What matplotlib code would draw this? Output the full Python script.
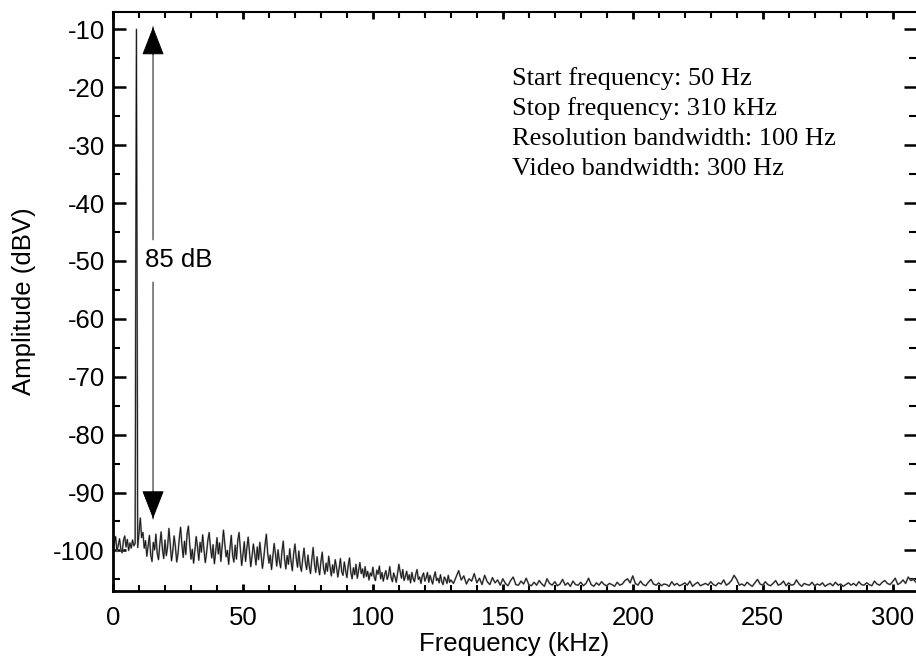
import numpy as np
import matplotlib
matplotlib.use("Agg")
import matplotlib.pyplot as plt
from matplotlib.ticker import MultipleLocator

# ---- data ----
# 0 - 130 kHz, 0.5 kHz spacing
dense_start_khz = 0.0
dense_step_khz = 0.5
amplitude_dense_dbv = [
    -97.2, -98.9, -97.6, -100.2, -99.1, -98.0, -99.8, -100.4, -98.3, -97.5,
    -99.4, -98.1, -100.0, -98.7, -99.6, -98.2, -99.2, -98.8, -10.0, -99.5,
    -97.0, -94.4, -97.8, -96.9, -99.6, -98.3, -101.0, -99.2, -97.4, -100.8,
    -101.9, -98.6, -99.9, -97.2, -100.5, -101.6, -98.9, -96.8, -99.7, -101.4,
    -98.2, -100.9, -99.4, -96.2, -98.8, -101.8, -100.1, -97.5, -99.3, -102.0,
    -100.6, -97.9, -96.0, -99.0, -101.2, -98.4, -100.7, -97.1, -95.8, -98.9,
    -101.5, -99.8, -102.2, -100.0, -97.6, -99.4, -101.7, -98.6, -100.3, -97.3,
    -99.9, -102.1, -100.4, -98.2, -96.9, -99.5, -101.3, -99.0, -102.3, -100.2,
    -97.8, -100.6, -98.7, -101.9, -99.3, -96.5, -98.9, -101.1, -100.0, -102.4,
    -99.6, -97.4, -100.8, -102.0, -99.1, -101.5, -98.3, -96.9, -99.8, -102.6,
    -100.7, -98.5, -101.9, -99.6, -97.7, -100.3, -102.8, -101.0, -98.9, -100.5,
    -102.5, -99.4, -101.6, -98.6, -100.9, -103.1, -101.3, -99.0, -97.2, -100.4,
    -102.2, -100.8, -103.3, -101.0, -98.8, -100.6, -102.7, -99.9, -101.8, -103.0,
    -100.2, -98.4, -101.5, -103.2, -100.9, -102.4, -99.7, -101.9, -103.5, -100.6,
    -98.9, -101.3, -102.9, -100.1, -102.6, -103.6, -101.4, -99.6, -102.0, -103.3,
    -100.8, -102.7, -104.0, -101.5, -99.5, -102.3, -103.8, -101.1, -102.9, -104.2,
    -101.9, -100.3, -103.0, -104.1, -102.2, -103.6, -101.0, -102.8, -104.4, -102.5,
    -103.9, -101.6, -102.9, -104.6, -103.1, -101.4, -103.7, -104.3, -102.0, -103.5,
    -104.7, -102.6, -101.3, -103.8, -104.9, -103.0, -104.2, -102.4, -104.8, -103.4,
    -102.1, -104.0, -103.2, -104.7, -102.8, -104.5, -103.6, -105.1, -103.9, -104.4,
    -102.9, -104.6, -105.2, -103.4, -104.1, -102.7, -104.9, -103.8, -105.3, -104.2,
    -103.5, -105.0, -104.3, -102.8, -104.7, -105.4, -103.9, -104.6, -105.5, -104.0,
    -102.4, -103.7, -104.8, -103.3, -105.2, -104.5, -103.6, -105.1, -104.2, -105.6,
    -103.8, -104.9, -105.4, -104.1, -103.3, -105.0, -104.6, -105.7, -104.4, -103.9,
    -105.3, -104.7, -103.8, -105.5, -104.3, -105.1, -105.8, -104.5, -103.7, -105.2,
    -104.8, -105.6, -104.2, -105.4, -105.9, -104.6, -105.0, -105.7, -104.3, -105.5,
    -105.1,
]
# 131 - 310 kHz, 1 kHz spacing
sparse_start_khz = 131.0
sparse_step_khz = 1.0
amplitude_sparse_dbv = [
    -105.7, -104.6, -103.5, -105.1, -104.4, -105.8, -104.9, -105.3, -104.0,
    -105.6, -104.8, -105.9, -104.3, -105.4, -105.9, -104.7, -105.6, -105.1, -106.0,
    -104.9, -105.7, -106.1, -105.2, -104.6, -105.9, -106.0, -105.3, -105.8, -104.8,
    -105.9, -106.1, -105.5, -106.0, -105.2, -105.8, -106.2, -104.9, -105.7, -106.0,
    -105.4, -106.1, -105.8, -105.0, -106.0, -105.6, -106.2, -105.3, -105.9, -106.0,
    -105.5, -106.1, -105.7, -104.8, -105.9, -106.2, -105.6, -106.0, -105.4, -105.9,
    -106.1, -105.7, -105.9, -106.2, -105.5, -106.0, -105.8, -105.2, -104.9, -105.6,
    -104.4, -105.7, -106.0, -105.3, -105.9, -106.1, -105.5, -105.0, -105.8, -106.0,
    -105.6, -106.1, -105.8, -105.9, -106.2, -105.4, -106.0, -105.7, -106.1, -105.9,
    -105.6, -106.0, -105.3, -106.2, -105.8, -105.5, -106.1, -105.9, -105.7, -106.0,
    -105.4, -105.9, -106.1, -105.6, -105.8, -105.1, -106.0, -105.7, -105.2, -104.3,
    -105.0, -106.0, -105.8, -106.1, -105.5, -105.9, -106.2, -105.6, -105.0, -105.8,
    -106.0, -105.4, -105.9, -106.1, -105.7, -105.2, -106.0, -105.8, -105.3, -106.1,
    -105.6, -106.0, -105.9, -105.1, -105.8, -106.2, -105.7, -105.9, -106.0, -105.5,
    -106.1, -105.8, -106.0, -105.6, -106.2, -105.9, -105.7, -106.1, -105.5, -106.0,
    -105.8, -106.2, -105.9, -105.6, -106.0, -105.7, -106.1, -105.4, -105.9, -106.0,
    -105.6, -105.9, -106.1, -105.3, -105.8, -106.0, -105.5, -105.2, -105.7, -105.9,
    -105.4, -104.8, -105.9, -105.6, -105.1, -105.7, -104.6, -105.2, -105.0, -105.5,
    -105.3,
]

freq_khz = np.concatenate([
    dense_start_khz + dense_step_khz * np.arange(len(amplitude_dense_dbv)),
    sparse_start_khz + sparse_step_khz * np.arange(len(amplitude_sparse_dbv)),
])
amplitude_dbv = np.concatenate([amplitude_dense_dbv, amplitude_sparse_dbv])

arrow_freq_khz = 15.4
arrow_top_dbv = -9.6
arrow_bottom_dbv = -94.5
arrow_label = "85 dB"

settings_lines = [
    "Start frequency: 50 Hz",
    "Stop frequency: 310 kHz",
    "Resolution bandwidth: 100 Hz",
    "Video bandwidth: 300 Hz",
]

x_label = "Frequency (kHz)"
y_label = "Amplitude (dBV)"

# ---- figure ----
SANS = ["Liberation Sans", "DejaVu Sans"]
SERIF = ["Liberation Serif", "DejaVu Serif"]
plt.rcParams["font.family"] = SANS
plt.rcParams["axes.unicode_minus"] = False
FS = 18.5

fig = plt.figure(figsize=(9.16, 6.64), dpi=100)
ax = fig.add_axes([0.1234, 0.110, 0.8766, 0.872])

ax.plot(freq_khz, amplitude_dbv, color="#8a8a8a", lw=1.3, zorder=2)
ax.plot(freq_khz, amplitude_dbv, color="#111111", lw=0.6, zorder=3)

ax.set_xlim(0, 309)
ax.set_ylim(-107, -7)

ax.xaxis.set_major_locator(MultipleLocator(50))
ax.xaxis.set_minor_locator(MultipleLocator(10))
ax.yaxis.set_major_locator(MultipleLocator(10))
ax.yaxis.set_minor_locator(MultipleLocator(5))

ax.tick_params(axis="both", which="both", direction="in", top=True, right=True,
               colors="black", labelsize=FS)
ax.tick_params(axis="x", which="major", length=5, width=2, pad=11)
ax.tick_params(axis="x", which="minor", length=4, width=1.5)
ax.tick_params(axis="y", which="major", length=9, width=1.8, pad=6)
ax.tick_params(axis="y", which="minor", length=5, width=1.5)

for side in ("left", "bottom"):
    ax.spines[side].set_linewidth(2.0)
ax.spines["top"].set_linewidth(1.5)
ax.spines["right"].set_visible(False)

ax.set_xlabel(x_label, fontsize=FS, labelpad=1)
ax.set_ylabel(y_label, fontsize=FS, labelpad=12)

# double-headed arrow split by the label: grey shafts, black heads
shaft = dict(arrowstyle="-", color="#7a7a7a", lw=1.3, shrinkA=0, shrinkB=0)
head = dict(arrowstyle="-|>,head_length=1.85,head_width=0.72", fc="black",
            ec="black", lw=0.6, shrinkA=0, shrinkB=0, mutation_scale=10)
ax.annotate("", xy=(arrow_freq_khz, arrow_top_dbv),
            xytext=(arrow_freq_khz, -46.3), arrowprops=shaft)
ax.annotate("", xy=(arrow_freq_khz, arrow_bottom_dbv),
            xytext=(arrow_freq_khz, -53.7), arrowprops=shaft)
ax.annotate("", xy=(arrow_freq_khz, arrow_top_dbv),
            xytext=(arrow_freq_khz, arrow_top_dbv - 4.7), arrowprops=head)
ax.annotate("", xy=(arrow_freq_khz, arrow_bottom_dbv),
            xytext=(arrow_freq_khz, arrow_bottom_dbv + 4.7), arrowprops=head)
ax.text(12.2, -49.9, arrow_label, fontsize=FS, ha="left", va="center",
        bbox=dict(fc="white", ec="none", pad=0.5), zorder=5)

for i, line in enumerate(settings_lines):
    ax.text(153.7, -18.5 - 5.2 * i, line, family=SERIF, fontsize=FS + 0.5,
            ha="left", va="center")

fig.savefig("out.png", dpi=100)
